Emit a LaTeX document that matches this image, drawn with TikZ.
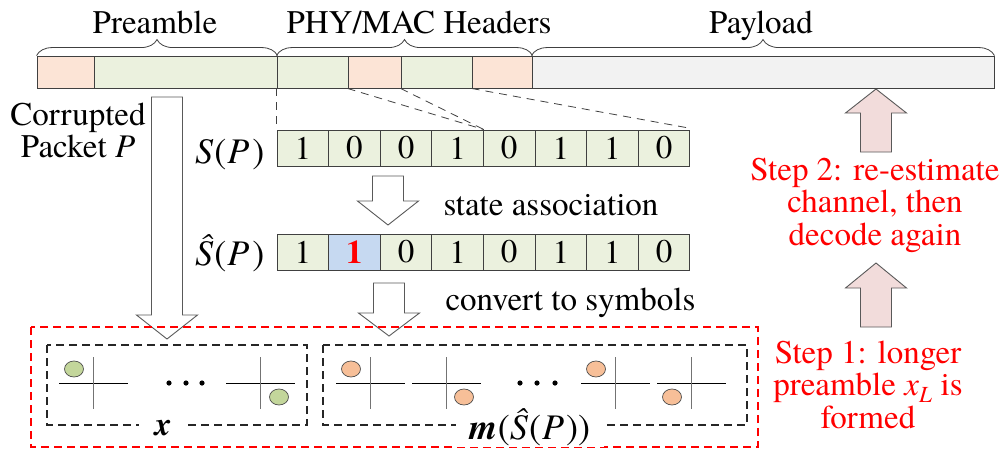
\documentclass[tikz,border=0pt]{standalone}
\usepackage{fontspec}
\setmainfont{texgyretermes}[Extension=.otf,
  UprightFont=*-regular, ItalicFont=*-italic,
  BoldFont=*-bold, BoldItalicFont=*-bolditalic]
\usetikzlibrary{decorations.pathreplacing,calc}

\definecolor{segorange}{HTML}{FCE4D6}
\definecolor{seggreen}{HTML}{EBF1DE}
\definecolor{seggray}{HTML}{F2F2F2}
\definecolor{cellblue}{HTML}{C6D9F1}
\definecolor{dotgreen}{HTML}{C3D69B}
\definecolor{dotorange}{HTML}{F7BF98}
\definecolor{arrowpink}{HTML}{F2DCDB}
\definecolor{edgegray}{HTML}{404040}

% block arrows: tip (x,y), total length, head length
\newcommand\blockdown[5]{%
  \draw[blockarr,fill=#5] (#1,#2) -- ({#1-30.5},{#2-#4}) -- ({#1-15.5},{#2-#4})
    -- ({#1-15.5},{#2-#3}) -- ({#1+15.5},{#2-#3}) -- ({#1+15.5},{#2-#4})
    -- ({#1+30.5},{#2-#4}) -- cycle;}
\newcommand\blockup[5]{%
  \draw[blockarr,fill=#5] (#1,#2) -- ({#1-30.5},{#2+#4}) -- ({#1-15.5},{#2+#4})
    -- ({#1-15.5},{#2+#3}) -- ({#1+15.5},{#2+#3}) -- ({#1+15.5},{#2+#4})
    -- ({#1+30.5},{#2+#4}) -- cycle;}

\begin{document}
\begin{tikzpicture}[x=1pt,y=-1pt,
  font=\fontsize{33}{32.5}\selectfont,
  seg/.style={draw=edgegray,line width=0.9pt,rectangle,inner sep=0pt,minimum height=32pt},
  cell/.style={draw=edgegray,line width=0.9pt,rectangle,inner sep=0pt,minimum height=36pt,minimum width=51.6pt,fill=seggreen},
  brc/.style={draw=edgegray,line width=0.8pt,decorate,decoration={brace,amplitude=16pt}},
  leader/.style={draw=edgegray,line width=0.8pt,dash pattern=on 8pt off 6pt},
  blockarr/.style={draw=black!65,line width=0.9pt,line join=miter},
  boxdash/.style={draw=black!85,line width=1.3pt,dash pattern=on 8pt off 5pt},
  reddash/.style={draw=red,line width=1.4pt,dash pattern=on 8pt off 5pt},
  redtext/.style={text=red,align=center},
  axish/.style={draw=black,line width=0.9pt},
  axisv/.style={draw=black!55,line width=0.9pt},
  dotpt/.style={draw=black!70,line width=0.7pt}
]
\useasboundingbox (0,0) rectangle (1006,451);

% ---- packet bar ----
\node[seg,fill=segorange,minimum width=57pt]  (p1) at (65.5,72) {};
\node[seg,fill=seggreen,minimum width=183pt]  (p2) at (185.5,72) {};
\node[seg,fill=seggreen,minimum width=71pt]   (h1) at (312.5,72) {};
\node[seg,fill=segorange,minimum width=53pt]  (h2) at (374.5,72) {};
\node[seg,fill=seggreen,minimum width=71pt]   (h3) at (436.5,72) {};
\node[seg,fill=segorange,minimum width=60pt]  (h4) at (502,72) {};
\node[seg,fill=seggray,minimum width=462pt]   (pl) at (763,72) {};

% ---- braces and field names ----
\draw[brc] (p1.north west) -- (p2.north east);
\draw[brc] (h1.north west) -- (h4.north east);
\draw[brc] (pl.north west) -- (pl.north east);
\node[anchor=base] (lpre) at (155,33) {Preamble};
\node[anchor=base] (lhdr) at (419,33) {PHY/MAC Headers};
\node[anchor=base] (lpay) at (761,33) {Payload};

% ---- state sequences ----
\foreach \b [count=\i] in {1,0,0,1,0,1,1,0}
  \node[cell] (s\i) at ({277+25.8+51.6*(\i-1)},148) {\b};
\foreach \b [count=\i] in {1,X,0,1,0,1,1,0}{
  \ifnum\i=2
    \node[cell,fill=cellblue] (t\i) at ({277+25.8+51.6*(\i-1)},252) {\textcolor{red}{\textbf{1}}};
  \else
    \node[cell] (t\i) at ({277+25.8+51.6*(\i-1)},252) {\b};
  \fi}

\node[anchor=base east,font=\fontsize{36}{36}\selectfont] (lS) at (268,163)
  {\textit{S}\kern1pt(\kern1pt\textit{P}\kern3pt)};
\node[anchor=base east,font=\fontsize{36}{36}\selectfont] (lSh) at (268,265)
  {\textit{\^S}\kern1pt(\kern1pt\textit{P}\kern3pt)};

% ---- leader lines from header fields to bits ----
\draw[leader] (h1.south west) -- (s1.north west);
\draw[leader] (h2.south west) -- (s4.north east);
\draw[leader] (h3.south west) -- (s4.north east);
\draw[leader] (h4.south west) -- ($(s8.north east)+(-4,-2)$);

% ---- left label ----
\node[align=center] (corr) at (78,130.5) {Corrupted\\Packet \textit{P}};

% ---- block arrows ----
\blockdown{167}{339}{242}{24}{white}
\blockdown{388}{225}{49}{24}{white}
\blockdown{389}{336}{53}{23}{white}
\blockup{876}{89}{63}{24}{arrowpink}
\blockup{876}{263}{64}{25}{arrowpink}

\node[anchor=base west] (lstate) at (440,215) {state association};
\node[anchor=base west] (lconv) at (442,310) {convert to symbols};

% ---- symbol boxes ----
\draw[reddash] (31,327) rectangle (758,447);
\draw[boxdash] (47,345) rectangle (307,425);
\draw[boxdash] (323,345) rectangle (747,425);
\node[fill=white,inner xsep=16pt,inner ysep=2pt] (lx) at (163,428) {\textbf{\textit{x}}};
\node[fill=white,inner xsep=14pt,inner ysep=1pt,font=\fontsize{36}{36}\selectfont] (lm) at (530,427)
  {\textbf{\textit{m}}(\textit{\^S}\kern1pt(\kern1pt\textit{P}\kern2pt))};

% constellation diagrams: centre x / dot offset x / dot offset y / colour
\foreach \cx/\dx/\dy/\cc in {93/-19/-14/dotgreen, 260/19/14/dotgreen,
    370/-19/-14/dotorange, 446/18/14/dotorange,
    615/-19/-14/dotorange, 691/-19/14/dotorange}{
  \draw[axish] ({\cx-34},383) -- ({\cx+35},383);
  \draw[axisv] (\cx,357) -- (\cx,409);
  \draw[dotpt,fill=\cc] ({\cx+\dx},{383+\dy}) ellipse [x radius=9.5pt,y radius=8pt];
}
\foreach \dx in {169,186,202,520,537,555}
  \fill (\dx,383) circle [radius=2.6pt];

% ---- step annotations ----
\node[redtext] (step2) at (875,205) {Step 2: re-estimate\\channel, then\\decode again};
\node[redtext] (step1) at (868,384.5) {Step 1: longer\\preamble \textit{x}\textsubscript{\textit{L}} is\\formed};

\end{tikzpicture}
\end{document}
